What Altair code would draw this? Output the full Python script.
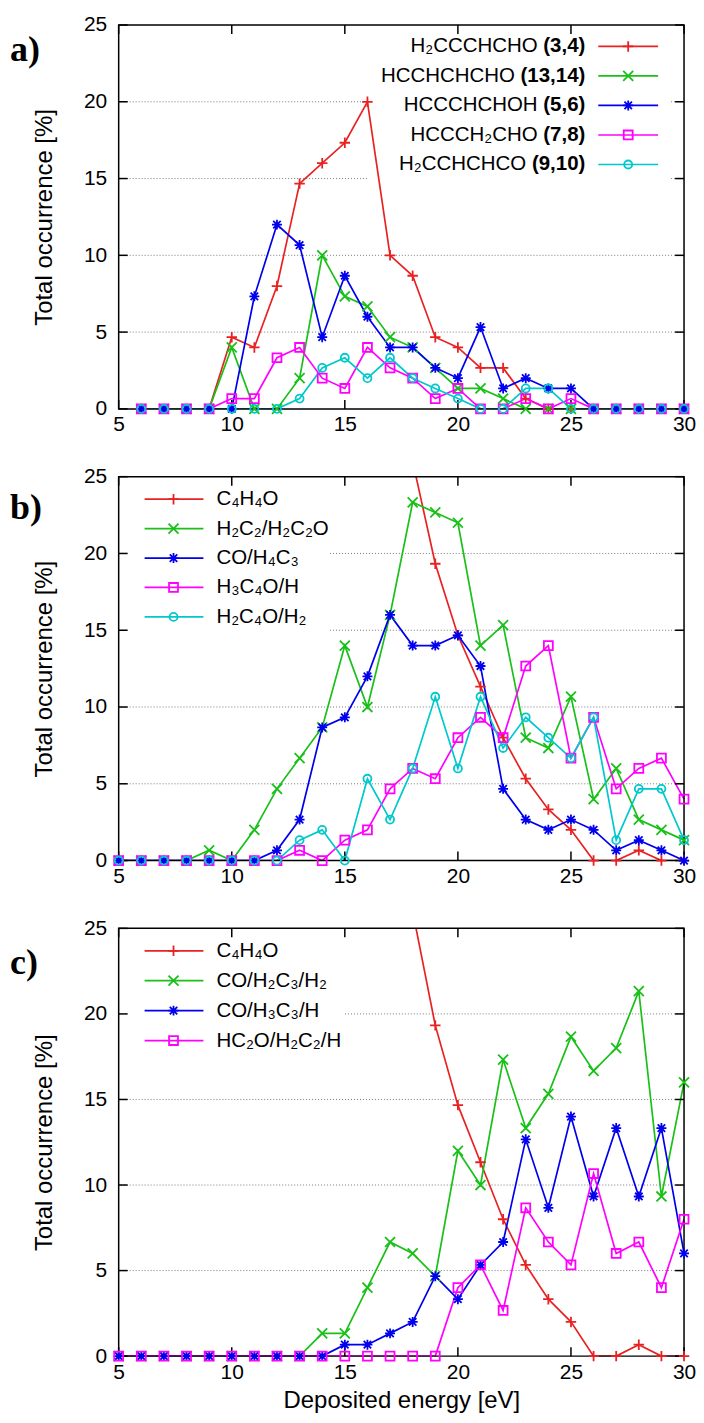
import altair as alt
import pandas as pd

# ---------------- data ----------------
energy_a = [6, 7, 8, 9, 10, 11, 12, 13, 14, 15, 16, 17, 18, 19, 20, 21, 22, 23, 24, 25, 26, 27, 28, 29, 30]
a_h2ccchcho = [0, 0, 0, 0, 4.67, 4.0, 8.0, 14.67, 16.0, 17.33, 20.0, 10.0, 8.67, 4.67, 4.0, 2.67, 2.67, 0.67, 0, 0, 0, 0, 0, 0, 0]
a_hcchchcho = [0, 0, 0, 0, 4.0, 0, 0, 2.0, 10.0, 7.33, 6.67, 4.67, 4.0, 2.67, 1.33, 1.33, 0.67, 0, 0, 0, 0, 0, 0, 0, 0]
a_hccchchoh = [0, 0, 0, 0, 0, 7.33, 12.0, 10.67, 4.67, 8.67, 6.0, 4.0, 4.0, 2.67, 2.0, 5.33, 1.33, 2.0, 1.33, 1.33, 0, 0, 0, 0, 0]
a_hccch2cho = [0, 0, 0, 0, 0.67, 0.67, 3.33, 4.0, 2.0, 1.33, 4.0, 2.67, 2.0, 0.67, 1.33, 0, 0, 0.67, 0, 0.67, 0, 0, 0, 0, 0]
a_h2cchchco = [0, 0, 0, 0, 0, 0, 0, 0.67, 2.67, 3.33, 2.0, 3.33, 2.0, 1.33, 0.67, 0, 0, 1.33, 1.33, 0, 0, 0, 0, 0, 0]

energy_bc = [5, 6, 7, 8, 9, 10, 11, 12, 13, 14, 15, 16, 17, 18, 19, 20, 21, 22, 23, 24, 25, 26, 27, 28, 29, 30]
c4h4o = [100, 100, 100, 100, 100, 100, 99.33, 98.0, 94.67, 87.33, 75.33, 58.67, 40.0, 26.0, 19.33, 14.67, 11.33, 8.0, 5.33, 3.33, 2.0, 0, 0, 0.67, 0, 0]
b_h2c2_h2c2o = [0, 0, 0, 0, 0.67, 0, 2.0, 4.67, 6.67, 8.67, 14.0, 10.0, 16.0, 23.33, 22.67, 22.0, 14.0, 15.33, 8.0, 7.33, 10.67, 4.0, 6.0, 2.67, 2.0, 1.33]
b_co_h4c3 = [0, 0, 0, 0, 0, 0, 0, 0.67, 2.67, 8.67, 9.33, 12.0, 16.0, 14.0, 14.0, 14.67, 12.67, 4.67, 2.67, 2.0, 2.67, 2.0, 0.67, 1.33, 0.67, 0]
b_h3c4o_h = [0, 0, 0, 0, 0, 0, 0, 0, 0.67, 0, 1.33, 2.0, 4.67, 6.0, 5.33, 8.0, 9.33, 8.0, 12.67, 14.0, 6.67, 9.33, 4.67, 6.0, 6.67, 4.0]
b_h2c4o_h2 = [0, 0, 0, 0, 0, 0, 0, 0, 1.33, 2.0, 0, 5.33, 2.67, 6.0, 10.67, 6.0, 10.67, 7.33, 9.33, 8.0, 6.67, 9.33, 1.33, 4.67, 4.67, 1.33]
c_co_h2c3_h2 = [0, 0, 0, 0, 0, 0, 0, 0, 0, 1.33, 1.33, 4.0, 6.67, 6.0, 4.67, 12.0, 10.0, 17.33, 13.33, 15.33, 18.67, 16.67, 18.0, 21.33, 9.33, 16.0]
c_co_h3c3_h = [0, 0, 0, 0, 0, 0, 0, 0, 0, 0, 0.67, 0.67, 1.33, 2.0, 4.67, 3.33, 5.33, 6.67, 12.67, 8.67, 14.0, 9.33, 13.33, 9.33, 13.33, 6.0]
c_hc2o_h2c2_h = [0, 0, 0, 0, 0, 0, 0, 0, 0, 0, 0, 0, 0, 0, 0, 4.0, 5.33, 2.67, 8.67, 6.67, 5.33, 10.67, 6.0, 6.67, 4.0, 8.0]

x_ticks = [5, 10, 15, 20, 25, 30]
y_ticks = [0, 5, 10, 15, 20, 25]
grid_values = [5, 10, 15, 20]

labels_a = [("H\u2082CCCHCHO", "(3,4)"), ("HCCHCHCHO", "(13,14)"), ("HCCCHCHOH", "(5,6)"),
            ("HCCCH\u2082CHO", "(7,8)"), ("H\u2082CCHCHCO", "(9,10)")]
labels_b = ["C\u2084H\u2084O", "H\u2082C\u2082/H\u2082C\u2082O", "CO/H\u2084C\u2083", "H\u2083C\u2084O/H", "H\u2082C\u2084O/H\u2082"]
labels_c = ["C\u2084H\u2084O", "CO/H\u2082C\u2083/H\u2082", "CO/H\u2083C\u2083/H", "HC\u2082O/H\u2082C\u2082/H"]

# ---------------- style ----------------
FONT = "Liberation Sans"
W = 567
RED, GREEN, BLUE, MAGENTA, CYAN = "#e82222", "#18c018", "#0000ee", "#ff00ff", "#00c8cc"
PLUS = "M-1,0L1,0M0,-1L0,1"
XMARK = "M-1,-1L1,1M-1,1L1,-1"
STAR = "M-1,0L1,0M0,-1L0,1M-0.75,-0.75L0.75,0.75M-0.75,0.75L0.75,-0.75"
STYLE = [(RED, PLUS, 110), (GREEN, XMARK, 100), (BLUE, STAR, 100), (MAGENTA, "square", 80), (CYAN, "circle", 64)]
BOLD_W = {"(": 333, ")": 333, ",": 278}
LW = 1.7
MW = 1.8
one = pd.DataFrame({"k": [0]})


def bold_width(s, fs):
    return sum(BOLD_W.get(ch, 556) for ch in s) * fs / 1000.0


def panel(series, H, xtitle, tag, tag_y, legend_fn, box):
    xs = alt.Scale(domain=[5, 30], nice=False, zero=False)
    ys = alt.Scale(domain=[0, 25], nice=False)
    xaxis_kw = dict(values=x_ticks, ticks=False, tickSize=0, domain=False, grid=False,
                    labelFont=FONT, labelFontSize=21, labelPadding=5, labelColor="black",
                    labelFlush=False, labelOverlap=False, title=xtitle)
    if xtitle:
        xaxis_kw.update(titleFont=FONT, titleFontSize=24, titleFontWeight="normal",
                        titleColor="black", titleY=52, titleBaseline="alphabetic")
    xaxis = alt.Axis(**xaxis_kw)
    yaxis = alt.Axis(values=y_ticks, ticks=False, tickSize=0, domain=False, grid=False,
                     labelFont=FONT, labelFontSize=21, labelPadding=12, labelColor="black",
                     labelFlush=False, title="Total occurrence [%]", titleFont=FONT,
                     titleFontSize=24, titleFontWeight="normal", titleColor="black",
                     titleX=-74, titleY=H / 2, titleAngle=270, titleAlign="center",
                     titleBaseline="middle")

    def X():
        return alt.X("x:Q", scale=xs, axis=xaxis)

    def Y():
        return alt.Y("y:Q", scale=ys, axis=yaxis)

    layers = []
    # grid
    layers.append(alt.Chart(pd.DataFrame({"y": grid_values})).mark_rule(
        color="#7a7a7a", strokeWidth=1, strokeDash=[1, 2]).encode(y=Y()))
    # opaque key box
    layers.append(alt.Chart(one).mark_rect(color="white").encode(
        x=alt.value(box[0]), x2=alt.value(box[1]), y=alt.value(box[2]), y2=alt.value(box[3])))
    # lines
    frames = []
    for (xv, yv), (col, shp, sz) in zip(series, STYLE):
        df = pd.DataFrame({"x": xv, "y": yv})
        frames.append((df, col, shp, sz))
        layers.append(alt.Chart(df).mark_line(color=col, strokeWidth=LW, clip=True).encode(x=X(), y=Y()))
    # frame
    layers.append(alt.Chart(one).mark_rect(filled=False, stroke="black", strokeWidth=1.5).encode(
        x=alt.value(0), x2=alt.value(W), y=alt.value(0), y2=alt.value(H)))
    # ticks (inward)
    xt = pd.DataFrame({"x": x_ticks})
    yt = pd.DataFrame({"y": y_ticks})
    layers.append(alt.Chart(xt).mark_rule(color="black", strokeWidth=1.5).encode(
        x=X(), y=alt.value(H), y2=alt.value(H - 9)))
    layers.append(alt.Chart(xt).mark_rule(color="black", strokeWidth=1.5).encode(
        x=X(), y=alt.value(0), y2=alt.value(9)))
    layers.append(alt.Chart(yt).mark_rule(color="black", strokeWidth=1.5).encode(
        y=Y(), x=alt.value(0), x2=alt.value(9)))
    layers.append(alt.Chart(yt).mark_rule(color="black", strokeWidth=1.5).encode(
        y=Y(), x=alt.value(W - 9), x2=alt.value(W)))
    # points
    for df, col, shp, sz in frames:
        layers.append(alt.Chart(df).transform_filter("datum.y <= 25").mark_point(
            shape=shp, size=sz, filled=False, color=col, strokeWidth=MW, opacity=1).encode(x=X(), y=Y()))
    # legend
    layers.extend(legend_fn())
    # panel tag
    layers.append(alt.Chart(one).mark_text(
        text=tag, font="Liberation Serif", fontSize=36, fontWeight="bold", align="left",
        baseline="alphabetic", color="black").encode(x=alt.value(-109), y=alt.value(tag_y)))
    return alt.layer(*layers).properties(width=W, height=H)


def legend_right():
    out = []
    fs = 20.5
    for i, (name, num) in enumerate(labels_a):
        col, shp, sz = STYLE[i]
        y = 21.5 + 29.6 * i
        bw = bold_width(num, fs)
        out.append(alt.Chart(one).mark_text(text=name, font=FONT, fontSize=fs, align="right",
                                            baseline="middle", color="black").encode(
            x=alt.value(468 - bw - 0.278 * fs), y=alt.value(y)))
        out.append(alt.Chart(one).mark_text(text=num, font=FONT, fontSize=fs, fontWeight="bold",
                                            align="right", baseline="middle", color="black").encode(
            x=alt.value(468), y=alt.value(y)))
        out.append(alt.Chart(one).mark_rule(color=col, strokeWidth=LW).encode(
            x=alt.value(481), x2=alt.value(541), y=alt.value(y)))
        out.append(alt.Chart(one).mark_point(shape=shp, size=sz, filled=False, color=col,
                                             strokeWidth=MW, opacity=1).encode(
            x=alt.value(511), y=alt.value(y)))
    return out


def legend_left(labels, y0, dy):
    def fn():
        out = []
        for i, name in enumerate(labels):
            col, shp, sz = STYLE[i]
            y = y0 + dy * i
            out.append(alt.Chart(one).mark_rule(color=col, strokeWidth=LW).encode(
                x=alt.value(26), x2=alt.value(85), y=alt.value(y)))
            out.append(alt.Chart(one).mark_point(shape=shp, size=sz, filled=False, color=col,
                                                 strokeWidth=MW, opacity=1).encode(
                x=alt.value(55), y=alt.value(y)))
            out.append(alt.Chart(one).mark_text(text=name, font=FONT, fontSize=20.5, align="left",
                                                baseline="middle", color="black").encode(
                x=alt.value(98), y=alt.value(y)))
        return out
    return fn


series_a = [(energy_a, a_h2ccchcho), (energy_a, a_hcchchcho), (energy_a, a_hccchchoh),
            (energy_a, a_hccch2cho), (energy_a, a_h2cchchco)]
series_b = [(energy_bc, c4h4o), (energy_bc, b_h2c2_h2c2o), (energy_bc, b_co_h4c3),
            (energy_bc, b_h3c4o_h), (energy_bc, b_h2c4o_h2)]
series_c = [(energy_bc, c4h4o), (energy_bc, c_co_h2c3_h2), (energy_bc, c_co_h3c3_h),
            (energy_bc, c_hc2o_h2c2_h)]

pa = panel(series_a, 385, None, "a)", 36.5, legend_right, (249, 554, 0, 160))
pb = panel(series_b, 385, None, "b)", 42.5, legend_left(labels_b, 22.6, 29.5), (0, 212, 0, 170))
pc = panel(series_c, 429, "Deposited energy [eV]", "c)", 45.5, legend_left(labels_c, 22.5, 30.0), (0, 225, 0, 120))

chart = alt.vconcat(pa, pb, pc, spacing=31).properties(
    padding={"left": 2, "top": 4, "right": 0, "bottom": 0}
).configure_view(strokeWidth=0)

chart.save("out.html", embed_options={"renderer": "svg", "actions": False})
